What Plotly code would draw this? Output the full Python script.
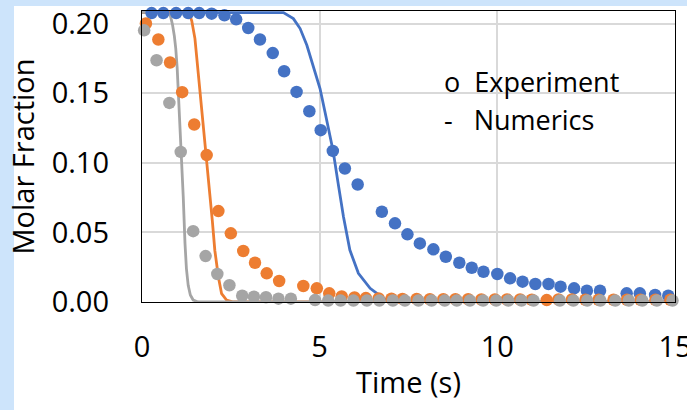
import plotly.graph_objects as go

# ---------------- data ----------------
# Experiment (dots)
blue_exp_t = [0.27, 0.60, 0.96, 1.30, 1.61, 1.96, 2.32, 2.65, 2.99, 3.32, 3.68, 4.00,
              4.35, 4.71, 5.03, 5.37, 5.71, 6.07, 6.75, 7.12, 7.47, 7.82, 8.20, 8.55,
              8.93, 9.28, 9.61, 10.00, 10.36, 10.71, 11.07, 11.44, 11.78, 12.16, 12.52,
              12.89, 13.64, 14.01, 14.44, 14.81]
blue_exp_y = [0.2075, 0.2075, 0.2075, 0.2075, 0.2075, 0.2071, 0.2059, 0.2030, 0.1968,
              0.1885, 0.1788, 0.1657, 0.1509, 0.1370, 0.1234, 0.1085, 0.0959, 0.0844,
              0.0648, 0.0565, 0.0486, 0.0421, 0.0378, 0.0325, 0.0282, 0.0246, 0.0217,
              0.0201, 0.0170, 0.0146, 0.0129, 0.0129, 0.0110, 0.0098, 0.0081, 0.0081,
              0.0062, 0.0062, 0.0050, 0.0045]

orange_exp_t = [0.11, 0.46, 0.79, 1.13, 1.47, 1.82, 2.15, 2.50, 2.85, 3.18, 3.51, 3.86,
                4.54, 4.92, 5.27, 5.62, 5.98, 6.30, 6.66, 7.02, 7.33, 7.73, 8.10, 8.48,
                8.82, 9.18, 9.55, 9.93, 10.27, 10.64, 10.97, 11.39, 11.72, 12.10, 12.48,
                12.85, 13.27, 13.65, 14.03, 14.45, 14.87]
orange_exp_y = [0.2000, 0.1885, 0.1720, 0.1507, 0.1275, 0.1055, 0.0653, 0.0493, 0.0366,
                0.0282, 0.0206, 0.0151, 0.0115, 0.0098, 0.0062, 0.0040, 0.0032, 0.0028,
                0.0026, 0.0024, 0.0022, 0.0022, 0.0020, 0.0020, 0.0020, 0.0020, 0.0018,
                0.0018, 0.0018, 0.0018, 0.0016, 0.0014, 0.0018, 0.0018, 0.0016, 0.0016,
                0.0016, 0.0016, 0.0016, 0.0016, 0.0016]

gray_exp_t = [0.06, 0.41, 0.77, 1.09, 1.44, 1.79, 2.12, 2.46, 2.82, 3.15, 3.49, 3.84,
              4.19, 4.87, 5.24, 5.59, 5.95, 6.33, 6.68, 7.06, 7.40, 7.78, 8.15, 8.52,
              8.86, 9.23, 9.60, 9.97, 10.31, 10.68, 11.02, 11.76, 12.14, 12.53, 12.90,
              13.32, 13.70, 14.08, 14.49, 14.93]
gray_exp_y = [0.1951, 0.1736, 0.1430, 0.1078, 0.0509, 0.0330, 0.0201, 0.0120, 0.0045,
              0.0038, 0.0034, 0.0024, 0.0024, 0.0014, 0.0010, 0.0010, 0.0010, 0.0010,
              0.0010, 0.0010, 0.0010, 0.0010, 0.0010, 0.0010, 0.0010, 0.0010, 0.0010,
              0.0010, 0.0010, 0.0010, 0.0010, 0.0010, 0.0010, 0.0010, 0.0010, 0.0010,
              0.0010, 0.0010, 0.0010, 0.0010]

# Numerics (lines)
blue_num_t = [0.0, 3.60, 3.98, 4.26, 4.45, 4.64, 4.82, 5.01, 5.15, 5.29, 5.38, 5.52,
              5.67, 5.85, 6.09, 6.42, 6.79, 7.03, 15.0]
blue_num_y = [0.2080, 0.2080, 0.2078, 0.2035, 0.1964, 0.1844, 0.1700, 0.1533, 0.1365,
              0.1198, 0.1083, 0.0852, 0.0612, 0.0373, 0.0206, 0.0098, 0.0027, 0.0002, 0.0]

orange_num_t = [0.0, 1.24, 1.33, 1.40, 1.49, 1.58, 1.68, 1.77, 1.84, 1.91, 1.98, 2.05,
                2.15, 2.24, 2.38, 2.57, 15.0]
orange_num_y = [0.2080, 0.2080, 0.2070, 0.2020, 0.1892, 0.1652, 0.1413, 0.1170, 0.1000,
                0.0800, 0.0580, 0.0370, 0.0180, 0.0060, 0.0014, 0.0, 0.0]

gray_num_t = [0.0, 0.73, 0.80, 0.86, 0.91, 0.95, 0.99, 1.04, 1.10, 1.16, 1.21, 1.25,
              1.30, 1.36, 1.44, 1.58, 15.0]
gray_num_y = [0.2080, 0.2080, 0.2055, 0.1990, 0.1910, 0.1820, 0.1680, 0.1430, 0.1130,
              0.0760, 0.0420, 0.0240, 0.0120, 0.0050, 0.0014, 0.0, 0.0]

x_ticks = [0, 5, 10, 15]
y_ticks = [0.00, 0.05, 0.10, 0.15, 0.20]
legend_lines = ["o\u00a0\u00a0Experiment", "-\u00a0\u00a0\u00a0Numerics"]

# ---------------- styling ----------------
BLUE, ORANGE, GRAY = "#4472C4", "#ED7D31", "#A5A5A5"
FONT = "Open Sans"

fig = go.Figure()
for t, y, c in [(blue_num_t, blue_num_y, BLUE),
                (orange_num_t, orange_num_y, ORANGE),
                (gray_num_t, gray_num_y, GRAY)]:
    fig.add_trace(go.Scatter(x=t, y=y, mode="lines",
                             line=dict(color=c, width=2.8),
                             cliponaxis=False, showlegend=False, hoverinfo="skip"))
for t, y, c in [(blue_exp_t, blue_exp_y, BLUE),
                (orange_exp_t, orange_exp_y, ORANGE),
                (gray_exp_t, gray_exp_y, GRAY)]:
    fig.add_trace(go.Scatter(x=t, y=y, mode="markers",
                             marker=dict(color=c, size=12.5, line=dict(width=0)),
                             cliponaxis=False, showlegend=False))

L, R, T, B = 142, 12, 11, 108
W, H = 687, 410
pw, ph = W - L - R, H - T - B

def px_x(p):
    return (p - L) / pw

def px_y(p):
    return (H - B - p) / ph

# white card over light-blue page background
fig.add_shape(type="rect", xref="paper", yref="paper",
              x0=px_x(14), x1=px_x(W + 5), y0=px_y(H + 5), y1=px_y(6),
              fillcolor="white", line=dict(width=0), layer="below")

for i, txt in enumerate(legend_lines):
    fig.add_annotation(x=px_x(442), y=px_y([81, 119][i]), xref="paper", yref="paper",
                       text=txt, showarrow=False, xanchor="left", yanchor="middle",
                       font=dict(family=FONT, size=27, color="black"))

axis_common = dict(showline=True, linecolor="black", linewidth=1.4, mirror=True,
                   showgrid=True, gridcolor="#d9d9d9", gridwidth=1.6, zeroline=False,
                   ticks="", ticklabeloverflow="allow",
                   tickfont=dict(family=FONT, size=29, color="black"))

fig.update_xaxes(range=[0, 15.0001], tickvals=x_ticks, ticklabelstandoff=19,
                 title=dict(text="Time (s)", font=dict(family=FONT, size=29, color="black"),
                            standoff=8),
                 **axis_common)
fig.update_yaxes(range=[0, 0.209], tickvals=y_ticks, tickformat=".2f", ticklabelstandoff=26,
                 title=dict(text="Molar Fraction", font=dict(family=FONT, size=29, color="black"),
                            standoff=8),
                 **axis_common)

fig.update_layout(width=W, height=H, margin=dict(l=L, r=R, t=T, b=B, autoexpand=False),
                  paper_bgcolor="#cde4fb", plot_bgcolor="white",
                  font=dict(family=FONT, color="black"), showlegend=False)

fig.write_html("out.html", config={"displayModeBar": False},
               post_script="document.body.style.margin='0';document.body.style.padding='0';")
